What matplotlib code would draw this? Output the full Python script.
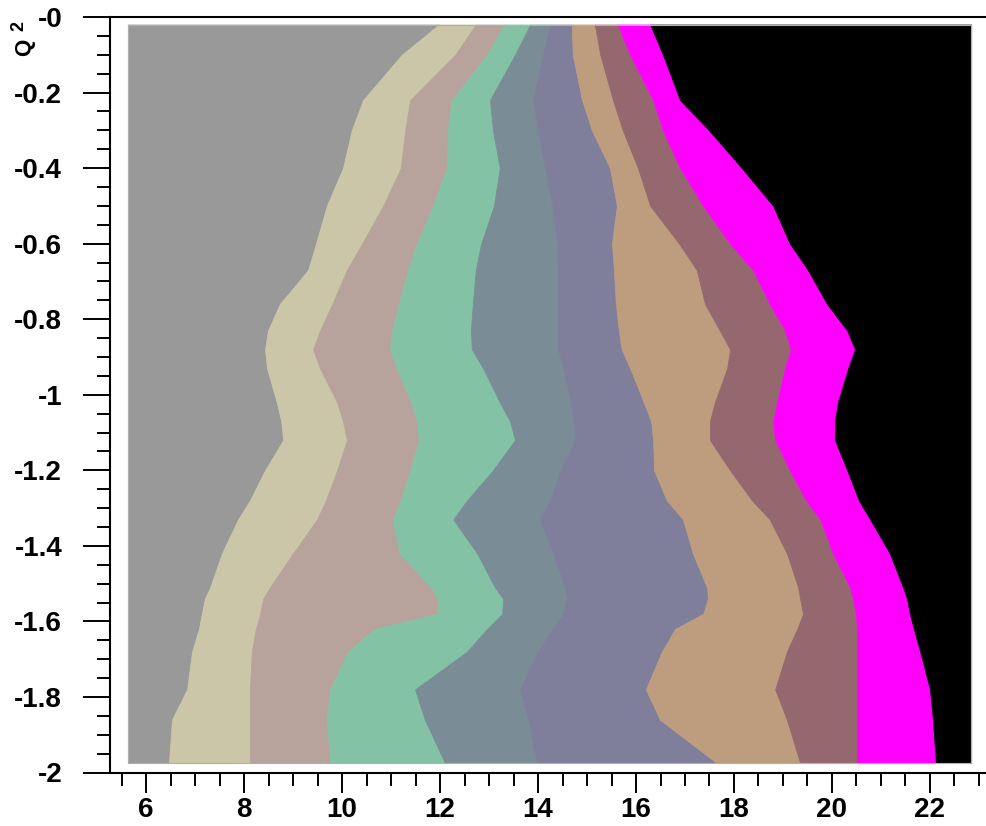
import numpy as np
import matplotlib
matplotlib.use("Agg")
import matplotlib.pyplot as plt
from matplotlib.ticker import MultipleLocator, FixedLocator

# Q^2 nodes (top -> bottom)
q2 = [-0.02, -0.10, -0.22, -0.30, -0.40, -0.50, -0.60, -0.67, -0.76, -0.83,
      -0.88, -0.93, -1.02, -1.07, -1.12, -1.20, -1.28, -1.33, -1.42, -1.51,
      -1.54, -1.58, -1.62, -1.68, -1.78, -1.86, -1.975]

x_lo = 5.63
x_hi = 22.84

# band boundaries, left to right
b1 = [11.98, 11.22, 10.43, 10.20, 10.02, 9.69, 9.47, 9.31, 8.73, 8.49,
      8.43, 8.47, 8.67, 8.76, 8.80, 8.43, 8.12, 7.88, 7.55, 7.31,
      7.20, 7.14, 7.08, 6.94, 6.84, 6.53, 6.47]
b2 = [12.73, 12.31, 11.39, 11.29, 11.20, 10.84, 10.41, 10.10, 9.80, 9.55,
      9.41, 9.55, 9.90, 10.02, 10.10, 9.90, 9.67, 9.49, 9.00, 8.53,
      8.39, 8.33, 8.24, 8.16, 8.12, 8.12, 8.12]
b3 = [13.31, 12.96, 12.24, 12.16, 12.14, 11.86, 11.53, 11.35, 11.16, 11.02,
      10.98, 11.12, 11.41, 11.53, 11.57, 11.39, 11.20, 11.04, 11.18, 11.82,
      11.96, 11.94, 10.67, 10.12, 9.76, 9.69, 9.76]
b4 = [13.84, 13.53, 13.02, 13.08, 13.22, 13.10, 12.84, 12.73, 12.67, 12.63,
      12.65, 12.88, 13.22, 13.43, 13.53, 13.08, 12.55, 12.27, 12.76, 13.12,
      13.29, 13.27, 12.96, 12.55, 11.49, 11.69, 12.10]
b5 = [14.24, 14.10, 13.90, 14.00, 14.14, 14.29, 14.39, 14.41, 14.41, 14.41,
      14.41, 14.51, 14.67, 14.73, 14.76, 14.45, 14.24, 14.04, 14.31, 14.55,
      14.59, 14.51, 14.29, 14.00, 13.63, 13.80, 13.98]
b6 = [14.69, 14.71, 14.90, 15.10, 15.47, 15.61, 15.51, 15.55, 15.59, 15.65,
      15.71, 15.88, 16.16, 16.31, 16.35, 16.37, 16.63, 16.96, 17.16, 17.45,
      17.47, 17.37, 16.80, 16.53, 16.20, 16.49, 17.65]
b7 = [15.16, 15.27, 15.53, 15.73, 16.04, 16.29, 16.88, 17.24, 17.41, 17.71,
      17.92, 17.86, 17.61, 17.51, 17.51, 17.92, 18.37, 18.73, 19.08, 19.31,
      19.35, 19.41, 19.29, 19.08, 18.84, 19.08, 19.35]
b8 = [15.63, 15.88, 16.35, 16.55, 16.90, 17.37, 17.92, 18.39, 18.73, 19.04,
      19.16, 19.04, 18.88, 18.80, 18.84, 19.14, 19.47, 19.76, 20.02, 20.37,
      20.43, 20.49, 20.51, 20.51, 20.51, 20.51, 20.51]
b9 = [16.29, 16.55, 16.90, 17.49, 18.16, 18.80, 19.14, 19.51, 19.90, 20.31,
      20.47, 20.33, 20.12, 20.06, 20.06, 20.31, 20.55, 20.78, 21.18, 21.45,
      21.53, 21.59, 21.67, 21.80, 22.00, 22.06, 22.12]

band_colors = ["#999999", "#ccc6a8", "#b7a39b", "#84c2a6", "#7a8c96",
               "#7f7f9c", "#be9c7e", "#94686e", "#ff00ff", "#000000"]

x_major = [6, 8, 10, 12, 14, 16, 18, 20, 22]
y_major = [-2, -1.8, -1.6, -1.4, -1.2, -1, -0.8, -0.6, -0.4, -0.2, 0]
y_labels = ["-2", "-1.8", "-1.6", "-1.4", "-1.2", "-1", "-0.8", "-0.6",
            "-0.4", "-0.2", "-0"]

plt.rcParams['font.family'] = ['Liberation Sans', 'DejaVu Sans']
plt.rcParams['font.weight'] = 'bold'

fig = plt.figure(figsize=(9.86, 8.26), dpi=100)
ax = fig.add_axes([110 / 986, (826 - 772.5) / 826, 876 / 986, 755.5 / 826])

q = np.array(q2)
edges = [np.full(len(q), x_lo)] + [np.array(b) for b in
                                   (b1, b2, b3, b4, b5, b6, b7, b8, b9)] + [np.full(len(q), x_hi)]
for i, c in enumerate(band_colors):
    ax.fill_betweenx(q, edges[i], edges[i + 1], facecolor=c, edgecolor=c, lw=0.6)

# thin frame around the filled area
ax.plot([x_lo, x_hi, x_hi, x_lo, x_lo], [q2[0], q2[0], q2[-1], q2[-1], q2[0]],
        color="#b0b0b0", lw=0.8)

ax.set_xlim(5.265, 23.143)
ax.set_ylim(-2, 0)

ax.xaxis.set_major_locator(FixedLocator(x_major))
ax.xaxis.set_minor_locator(MultipleLocator(0.5))
ax.yaxis.set_major_locator(FixedLocator(y_major))
ax.set_yticklabels(y_labels)
ax.yaxis.set_minor_locator(MultipleLocator(0.05))

ax.tick_params(axis='x', which='major', direction='out', length=14.5, width=1.4,
               pad=3, labelsize=20)
ax.tick_params(axis='x', which='minor', direction='out', length=9.4, width=1.4)
ax.tick_params(axis='y', which='major', direction='out', length=19.4, width=1.4,
               pad=15, labelsize=20)
ax.tick_params(axis='y', which='minor', direction='out', length=9.4, width=1.4)

ax.spines['right'].set_visible(False)
for s in ('left', 'bottom', 'top'):
    ax.spines[s].set_linewidth(1.5)

fig.text(25 / 986, 1 - 47 / 826, "Q", rotation=90, fontsize=16, fontweight='bold',
         ha='center', va='center')
fig.text(19 / 986, 1 - 26 / 826, "2", rotation=90, fontsize=13, fontweight='bold',
         ha='center', va='center')

fig.savefig("out.png", dpi=100)
